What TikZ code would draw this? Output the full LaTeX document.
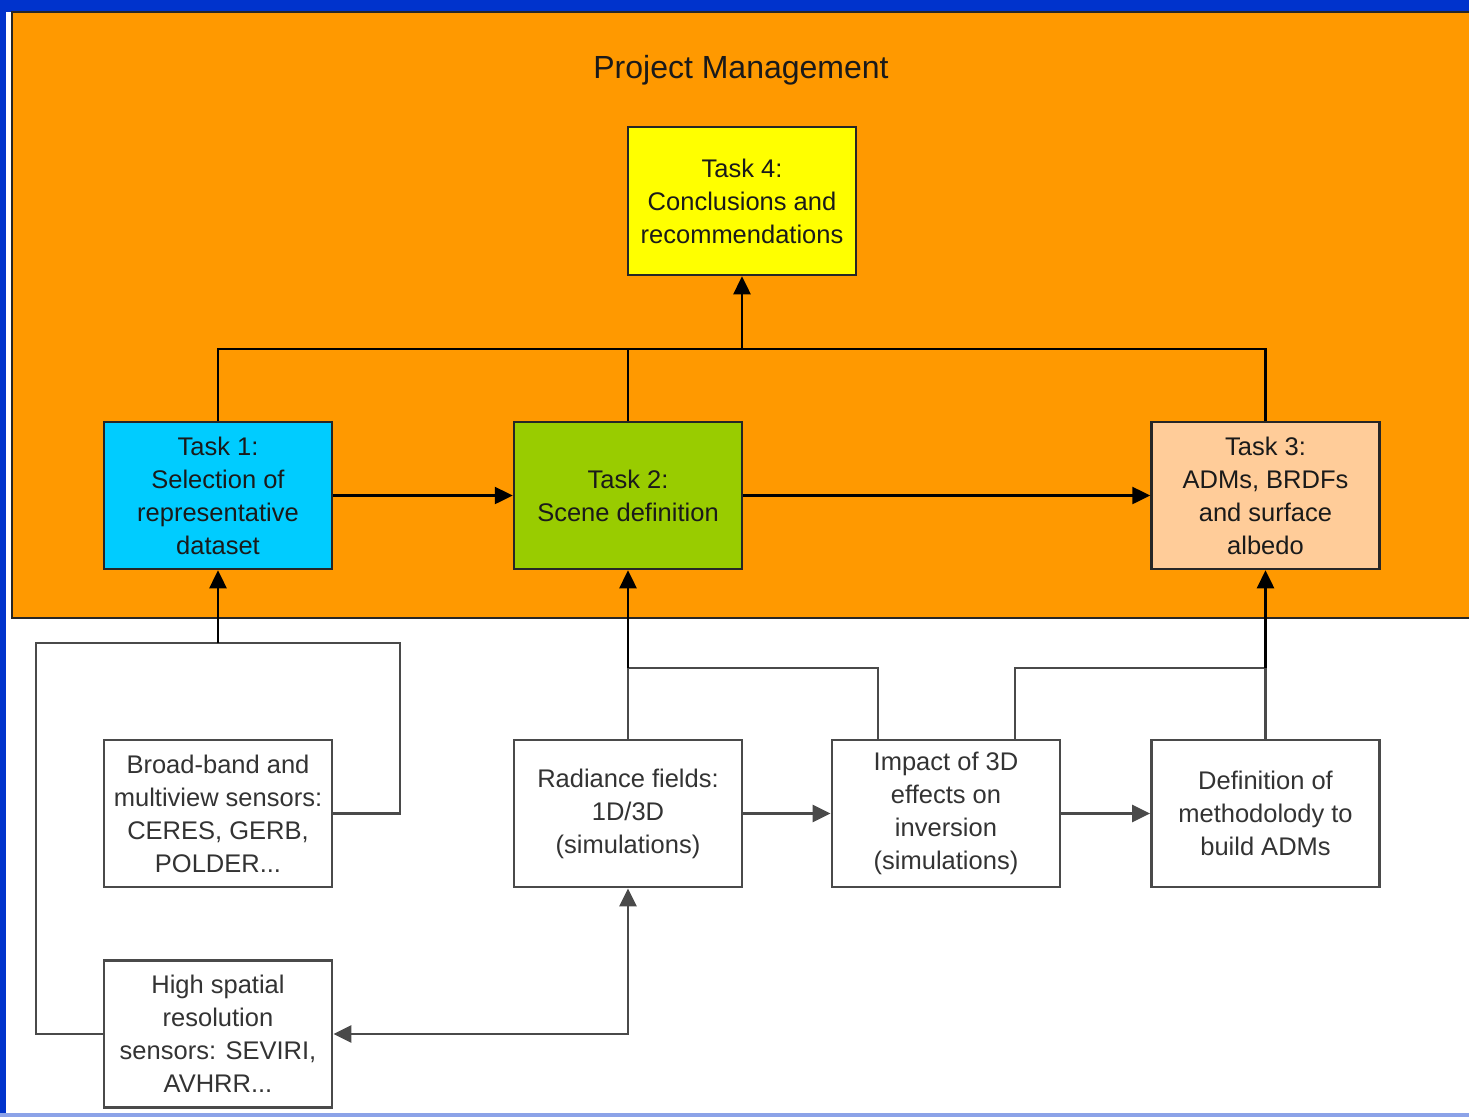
\documentclass[tikz,border=0pt]{standalone}
\usepackage{fontspec}
\setmainfont{Liberation Sans}
\usetikzlibrary{arrows.meta}
\definecolor{bandblue}{HTML}{0033CC}
\definecolor{pmorange}{HTML}{FF9900}
\definecolor{tcyan}{HTML}{00CCFF}
\definecolor{tgreen}{HTML}{99CC00}
\definecolor{tpeach}{HTML}{FFCC99}
\definecolor{tyellow}{HTML}{FFFF00}
\definecolor{txtdark}{HTML}{1A1A1A}
\definecolor{txtgray}{HTML}{333333}
\definecolor{lowline}{HTML}{4A4A4A}
\begin{document}
\begin{tikzpicture}[x=1pt,y=-1pt,
  taskbox/.style={draw=black!85,line width=2.5pt,minimum width=228pt,minimum height=147pt,align=center,inner sep=0pt,text=txtdark,font=\fontsize{25.5}{33}\selectfont},
  lowbox/.style={draw=lowline,fill=white,line width=2.8pt,minimum width=228pt,minimum height=147pt,align=center,inner sep=0pt,text=txtgray,font=\fontsize{25.5}{33}\selectfont},
  topline/.style={draw=black,line width=2.5pt},
  lowconn/.style={draw=lowline,line width=2.8pt},
  tip/.style={-{Triangle[length=18pt,width=17pt]}},
  dtip/.style={{Triangle[length=18pt,width=17pt]}-{Triangle[length=18pt,width=17pt]}}
]
\useasboundingbox (0,0) rectangle (1469,1117);
\fill[white] (0,0) rectangle (1469,1117);
% frame bands
\fill[bandblue] (0,0) rectangle (1469,12);
\fill[bandblue] (0,0) rectangle (6,1117);
\fill[bandblue!45] (0,1113) rectangle (1469,1117);
% project management area
\draw[fill=pmorange,draw=black!85,line width=2pt] (12,12) rectangle (1480,618);
\node[text=txtdark,font=\fontsize{32}{36}\selectfont] (pm) at (741,70) {Project Management};

% task boxes
\node[taskbox,fill=tyellow,minimum height=148pt] (t4) at (742,201) {Task 4:\\Conclusions and\\recommendations};
\node[taskbox,fill=tcyan] (t1) at (218,495.5) {Task 1:\\Selection of\\representative\\dataset};
\node[taskbox,fill=tgreen] (t2) at (628,495.5) {Task 2:\\Scene definition};
\node[taskbox,fill=tpeach] (t3) at (1265.5,495.5) {Task 3:\\ADMs, BRDFs\\and surface\\albedo};

% lower boxes
\node[lowbox] (bb) at (218,813.5) {Broad-band and\\multiview sensors:\\CERES, GERB,\\POLDER...};
\node[lowbox] (rf) at (628,813.5) {Radiance fields:\\1D/3D\\(simulations)};
\node[lowbox] (im) at (946,813.5) {Impact of 3D\\effects on\\inversion\\(simulations)};
\node[lowbox] (dm) at (1265.5,813.5) {Definition of\\methodolody to\\build ADMs};
\node[lowbox] (hs) at (218,1034) {High spatial\\resolution\\sensors: SEVIRI,\\AVHRR...};

% top connectors
\coordinate (bus) at (742,349);
\draw[topline] (t1.north) |- (bus) -| (t3.north);
\draw[topline] (t2.north) -- (t2.north |- bus);
\draw[topline,tip] (bus) -- (t4.south);
\draw[topline,tip] (t1.east) -- (t2.west);
\draw[topline,tip] (t2.east) -- (t3.west);

% lower connectors
\coordinate (loopt) at (218,643);
\draw[lowconn] (bb.east) -| (400,643) -| (hs.west -| 36,0) -- (hs.west);
\draw[lowconn] (400,643) -- (loopt);
\draw[topline,tip] (loopt) -- (t1.south);

\coordinate (jl) at (628,668);
\coordinate (jr) at (1265.5,668);
\draw[lowconn] ([xshift=-68pt]im.north) |- (jl);
\draw[lowconn] ([xshift=69pt]im.north) |- (jr);
\draw[lowconn] (rf.north) -- (jl);
\draw[topline,tip] (jl) -- (t2.south);
\draw[lowconn] (dm.north) -- (jr);
\draw[topline,tip] (jr) -- (t3.south);

\draw[lowconn,tip] (rf.east) -- (im.west);
\draw[lowconn,tip] (im.east) -- (dm.west);
\draw[lowconn,dtip] (hs.east) -| (rf.south);
\end{tikzpicture}
\end{document}
